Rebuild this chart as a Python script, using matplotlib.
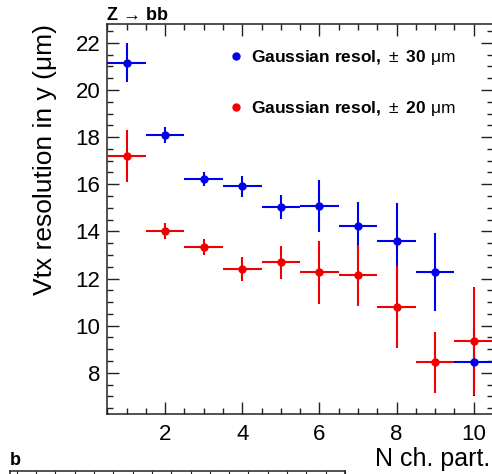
import matplotlib
matplotlib.use("Agg")
import matplotlib.pyplot as plt
from matplotlib.ticker import MultipleLocator
from matplotlib.lines import Line2D

plt.rcParams['font.family'] = ['Liberation Sans', 'DejaVu Sans']
plt.rcParams['mathtext.fontset'] = 'custom'
plt.rcParams['mathtext.rm'] = 'Liberation Sans'
plt.rcParams['mathtext.bf'] = 'Liberation Sans:bold'
plt.rcParams['mathtext.it'] = 'Liberation Sans:italic'

# ---- data ----
n_ch = [1, 2, 3, 4, 5, 6, 7, 8, 9, 10]
x_half_width = [0.5] * 10

res30 = [21.15, 18.08, 16.22, 15.92, 15.04, 15.07, 14.24, 13.59, 12.28, 8.44]
err30 = [0.83, 0.33, 0.29, 0.45, 0.52, 1.10, 1.00, 1.62, 1.67, 1.42]

res20 = [17.21, 14.00, 13.32, 12.40, 12.68, 12.26, 12.14, 10.80, 8.44, 9.34]
err20 = [1.10, 0.34, 0.34, 0.50, 0.70, 1.34, 1.30, 1.74, 1.28, 2.28]

label30 = r"$\mathbf{Gaussian\ resol,}\,\pm\ \mathbf{30}\ \mathrm{\mu m}$"
label20 = r"$\mathbf{Gaussian\ resol,}\,\pm\ \mathbf{20}\ \mathrm{\mu m}$"

blue = '#0000f0'
red = '#f00000'

W, H = 492, 474
fig = plt.figure(figsize=(W / 100, H / 100), dpi=100)
L, R, T, B = 107.3, 493.0, 24.0, 414.0
ax = fig.add_axes([L / W, 1 - B / H, (R - L) / W, (B - T) / H])

ax.errorbar(n_ch, res30, xerr=x_half_width, yerr=err30, fmt='o', color=blue,
            ms=5, lw=1.5, capsize=0, zorder=3)
ax.errorbar(n_ch, res20, xerr=x_half_width, yerr=err20, fmt='o', color=red,
            ms=5, lw=1.5, capsize=0, zorder=3)

ax.set_xlim(0.5, 10.5)
ax.set_ylim(6.25, 22.8)
ax.xaxis.set_major_locator(MultipleLocator(2))
ax.xaxis.set_minor_locator(MultipleLocator(0.5))
ax.yaxis.set_major_locator(MultipleLocator(2))
ax.yaxis.set_minor_locator(MultipleLocator(0.5))
ax.tick_params(which='both', direction='in', top=True, right=True,
               labelsize=16, width=1.0, color='#222222')
ax.tick_params(which='major', length=8.5, pad=7)
ax.tick_params(axis='y', which='major', pad=5)
ax.tick_params(which='minor', length=4.5)
for s in ax.spines.values():
    s.set_linewidth(1.1)
    s.set_color('#222222')

ax.set_xlabel('N ch. part.', fontsize=18, loc='right')
ax.xaxis.set_label_coords((490 - L) / (R - L), -(466 - B) / (B - T))
ax.xaxis.label.set_verticalalignment('baseline')
ax.set_ylabel('Vtx resolution in y (μm)', fontsize=19, loc='top')
ax.yaxis.set_label_coords(-(L - 52.5) / (R - L), 1.0)
ax.yaxis.label.set_verticalalignment('baseline')

handles = [Line2D([], [], ls='none', marker='o', ms=5, color=blue),
           Line2D([], [], ls='none', marker='o', ms=5, color=red)]
ax.legend(handles, [label30, label20], loc='upper left',
          bbox_to_anchor=((231 - L) / (R - L), (B - 48) / (B - T)),
          frameon=False, fontsize=12.5, handlelength=0.6, handletextpad=0.55,
          labelspacing=1.85, borderpad=0, borderaxespad=0)

fig.text(L / W, 1 - 20 / H, 'Z → bb', fontsize=13, fontweight='bold',
         ha='left', va='baseline')

# top edge of the next panel (b)
ax2 = fig.add_axes([10 / W, -0.5, (345 - 10) / W, 0.5 + 1 - 471 / H])
ax2.set_xlim(-0.35, 17.0)
ax2.set_ylim(0, 1)
ax2.xaxis.set_major_locator(MultipleLocator(1))
ax2.tick_params(which='both', direction='in', top=True, bottom=False,
                left=False, right=False, labelbottom=False, labelleft=False,
                length=6, color='#222222')
for s in ax2.spines.values():
    s.set_linewidth(1.1)
    s.set_color('#222222')
fig.text(10 / W, 1 - 465 / H, 'b', fontsize=13, fontweight='bold',
         ha='left', va='baseline')

fig.savefig('out.png', dpi=100)
